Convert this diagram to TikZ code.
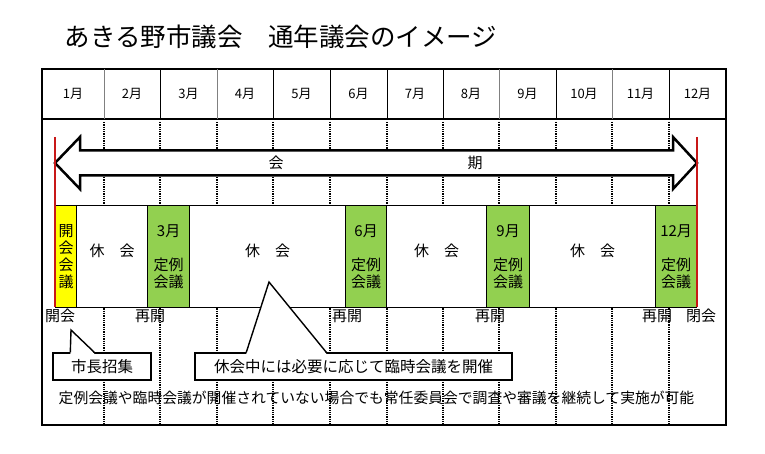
\documentclass[tikz,border=0pt]{standalone}
\usepackage{fontspec}
\setmainfont{Noto Sans CJK JP}
\usepackage{tikz}
\usetikzlibrary{positioning}
\definecolor{meetgreen}{RGB}{146,208,80}
\definecolor{openyellow}{RGB}{255,255,0}
\definecolor{limitred}{RGB}{200,24,24}

\begin{document}
\begin{tikzpicture}[x=1pt,y=-1pt,
	frameline/.style={line width=1.5pt},
	gridline/.style={densely dotted,line width=1.3pt},
	month/.style={font=\fontsize{13}{13}\selectfont},
	session/.style={draw,line width=1.3pt,anchor=north west,minimum height=102pt,inner sep=0pt,align=center,font=\fontsize{15}{17}\selectfont},
	openbox/.style={session,fill=openyellow},
	regular/.style={session,fill=meetgreen},
	recess/.style={session,fill=white},
	boxtext/.style={font=\fontsize{15}{17}\selectfont},
	calltext/.style={draw,fill=white,line width=1.4pt,inner sep=0pt,font=\fontsize{15.5}{17}\selectfont},
	limitline/.style={limitred,line width=2.5pt}]
	\useasboundingbox (0,0) rectangle (765,454);
	% title
	\node[anchor=west,font=\fontsize{25.5}{26}\selectfont] (title) at (61,37) {あきる野市議会　通年議会のイメージ};
	% frame and months
	\draw[frameline] (42,69) rectangle (726,425);
	\draw[frameline] (42,119) -- (726,119);
	\foreach \x/\c in {104/gray,160/black,217/gray,273/black,330/black,387/black,443/black,499/gray,556/black,612/gray,669/black}
		\draw[\c,line width=0.8pt] (\x,69) -- (\x,119);
	\foreach \x in {104,160,217,273,330,387,443,499,556,612,669}
		\draw[gridline] (\x,122) -- (\x,425);
	\foreach \m/\x in {1/73,2/132,3/188.5,4/245,5/301.5,6/358.5,7/415,8/471,9/527.5,10/584,11/640.5,12/697.5}
		\node[month] (m\m) at (\x,94) {{\m}月};
	% term arrow
	\draw[line width=2.5pt,fill=white] (55,163) -- (80,137) -- (80,150.5) -- (673,150.5) -- (673,137) -- (697,163)
		-- (673,189) -- (673,175.5) -- (80,175.5) -- (80,189) -- cycle;
	\node[boxtext] (termA) at (276,163) {会};
	\node[boxtext] (termB) at (475,163) {期};
	% sessions
	\node[openbox,minimum width=21pt] (open) at (55,205) {開\\会\\会\\議};
	\node[recess,minimum width=71pt] (rest1) at (76,205) {};
	\node[regular,minimum width=42pt] (mar) at (147,205) {3月\\[17pt]定例\\会議};
	\node[recess,minimum width=156pt] (rest2) at (189,205) {};
	\node[regular,minimum width=41pt] (jun) at (345,205) {6月\\[17pt]定例\\会議};
	\node[recess,minimum width=100pt] (rest3) at (386,205) {};
	\node[regular,minimum width=43pt] (sep) at (486,205) {9月\\[17pt]定例\\会議};
	\node[recess,minimum width=126pt] (rest4) at (529,205) {};
	\node[regular,minimum width=41pt] (dec) at (655,205) {12月\\[17pt]定例\\会議};
	\foreach \r in {rest1,rest2,rest3,rest4}
		\node[boxtext] (\r t) at ([yshift=6pt]\r.center) {休　会};
	\draw[limitline] (55,137) -- (55,307);
	\draw[limitline] (697,137) -- (697,307);
	% open / resume / close
	\node[boxtext] (opening) at (60,316) {開会};
	\node[boxtext] (resume1) at (150,316) {再開};
	\node[boxtext] (resume2) at (347,316) {再開};
	\node[boxtext] (resume3) at (490,316) {再開};
	\node[boxtext] (resume4) at (657,316) {再開};
	\node[boxtext] (closing) at (701,316) {閉会};
	% callouts
	\node[calltext,minimum width=98pt,minimum height=27pt] (mayor) at (102,366.5) {市長招集};
	\coordinate (mayortip) at (71,330);
	\fill[white] ([shift={(18pt,-1.5pt)}]mayor.north west) -- (mayortip) -- ([shift={(42pt,-1.5pt)}]mayor.north west) -- cycle;
	\draw[line width=1.4pt] ([xshift=18pt]mayor.north west) -- (mayortip) -- ([xshift=42pt]mayor.north west);
	\node[calltext,minimum width=317pt,minimum height=27pt] (extra) at (353.5,366.5) {休会中には必要に応じて臨時会議を開催};
	\coordinate (extratip) at (269,282);
	\fill[white] ([shift={(52pt,-1.5pt)}]extra.north west) -- (extratip) -- ([shift={(132pt,-1.5pt)}]extra.north west) -- cycle;
	\draw[line width=1.4pt] ([xshift=52pt]extra.north west) -- (extratip) -- ([xshift=132pt]extra.north west);
	% note
	\node[font=\fontsize{14.8}{16}\selectfont] (note) at (376.5,398) {定例会議や臨時会議が開催されていない場合でも常任委員会で調査や審議を継続して実施が可能};
\end{tikzpicture}
\end{document}
